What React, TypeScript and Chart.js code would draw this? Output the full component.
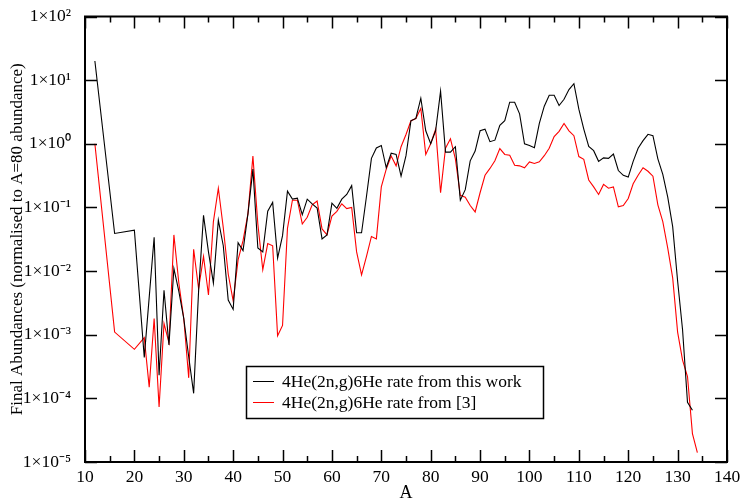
import React, { useEffect, useRef } from "react";
import { Chart, registerables } from "chart.js";

Chart.register(...registerables);

// ---- Data ----
const seriesLabels = [
  "4He(2n,g)6He rate from this work",
  "4He(2n,g)6He rate from [3]",
];

const massThisWork = [
  12, 16, 20, 22, 24, 25, 26, 27, 28, 29, 30, 31, 32, 33, 34, 35, 36, 37, 38, 39,
  40, 41, 42, 43, 44, 45, 46, 47, 48, 49, 50, 51, 52, 53, 54, 55, 56, 57, 58, 59,
  60, 61, 62, 63, 64, 65, 66, 67, 68, 69, 70, 71, 72, 73, 74, 75, 76, 77, 78, 79,
  80, 81, 82, 83, 84, 85, 86, 87, 88, 89, 90, 91, 92, 93, 94, 95, 96, 97, 98, 99,
  100, 101, 102, 103, 104, 105, 106, 107, 108, 109, 110, 111, 112, 113, 114, 115,
  116, 117, 118, 119, 120, 121, 122, 123, 124, 125, 126, 127, 128, 129, 130, 131,
  132, 133,
];
const abundThisWork = [
  20, 0.039, 0.044, 4.4e-4, 0.034, 2.3e-4, 0.005, 6.9e-4, 0.011, 0.0048, 0.0018, 4.5e-4,
  1.2e-4, 0.0048, 0.075, 0.02, 0.0065, 0.063, 0.025, 0.0035,
  0.0025, 0.028, 0.021, 0.08, 0.4, 0.023, 0.02, 0.087, 0.12, 0.016, 0.036, 0.18, 0.135,
  0.14, 0.077, 0.135, 0.114, 0.098, 0.032, 0.037,
  0.117, 0.097, 0.135, 0.16, 0.22, 0.04, 0.04, 0.15, 0.59, 0.86, 0.94, 0.42, 0.71, 0.68,
  0.31, 0.65, 2.3, 2.5, 5.2, 1.6,
  1.0, 1.6, 6.7, 0.74, 0.74, 0.9, 0.13, 0.19, 0.54, 0.77, 1.6, 1.7, 1.08, 1.14, 1.95, 2.3,
  4.5, 4.5, 2.96, 1.0,
  0.94, 0.87, 2.1, 3.9, 5.8, 5.8, 4.0, 5.0, 7.1, 8.8, 3.5, 1.7, 0.91, 0.78, 0.53, 0.6,
  0.59, 0.69, 0.38, 0.32, 0.3, 0.53, 0.85, 1.12, 1.41, 1.34, 0.58, 0.33, 0.145, 0.05,
  0.007, 0.0012,
  8.7e-5, 6.5e-5,
];

const massRef3 = [
  12, 16, 20, 22, 23, 24, 25, 26, 27, 28, 29, 30, 31, 32, 33, 34, 35, 36, 37, 38, 39,
  40, 41, 42, 43, 44, 45, 46, 47, 48, 49, 50, 51, 52, 53, 54, 55, 56, 57, 58, 59,
  60, 61, 62, 63, 64, 65, 66, 67, 68, 69, 70, 71, 72, 73, 74, 75, 76, 77, 78, 79,
  80, 81, 82, 83, 84, 85, 86, 87, 88, 89, 90, 91, 92, 93, 94, 95, 96, 97, 98, 99,
  100, 101, 102, 103, 104, 105, 106, 107, 108, 109, 110, 111, 112, 113, 114, 115,
  116, 117, 118, 119, 120, 121, 122, 123, 124, 125, 126, 127, 128, 129, 130, 131,
  132, 133, 134,
];
const abundRef3 = [
  1.0, 0.0011, 5.9e-4, 9e-4, 1.5e-4, 0.0018, 7.3e-5, 0.0015, 7.5e-4, 0.037, 0.0065,
  0.0018, 2.1e-4, 0.022, 0.0053, 0.017, 0.0042, 0.06, 0.2, 0.048, 0.009,
  0.0034, 0.015, 0.03, 0.08, 0.64, 0.055, 0.0105, 0.027, 0.025, 9.6e-4, 0.0014, 0.047,
  0.13, 0.13, 0.055, 0.07, 0.11, 0.126, 0.046, 0.037,
  0.073, 0.087, 0.114, 0.096, 0.1, 0.02, 0.0087, 0.017, 0.035, 0.032, 0.21, 0.4, 0.64,
  0.45, 0.9, 1.4, 2.3, 2.5, 3.6, 0.68,
  1.0, 1.7, 0.17, 0.85, 1.2, 0.58, 0.155, 0.145, 0.107, 0.085, 0.17, 0.32, 0.41, 0.54,
  0.84, 0.68, 0.66, 0.46, 0.45, 0.42,
  0.52, 0.49, 0.52, 0.65, 0.85, 1.3, 1.57, 2.08, 1.6, 1.34, 0.63, 0.57, 0.27, 0.21,
  0.16, 0.23, 0.2, 0.21, 0.102, 0.107, 0.138, 0.235, 0.32, 0.42, 0.37, 0.31, 0.11,
  0.06, 0.023, 0.0078, 0.0011, 4e-4,
  2.2e-4, 2.8e-5, 1.4e-5,
];

const xMajorTicks = [10, 20, 30, 40, 50, 60, 70, 80, 90, 100, 110, 120, 130, 140];
const xMinorTicks = [15, 25, 35, 45, 55, 65, 75, 85, 95, 105, 115, 125, 135];
const yTickExponents = [-5, -4, -3, -2, -1, 0, 1, 2];

const xTitle = "A";
const yTitle = "Final Abundances (normalised to A=80 abundance)";

const SUP: Record<string, string> = {
  "-": "\u207B", "0": "\u2070", "1": "\u00B9", "2": "\u00B2", "3": "\u00B3",
  "4": "\u2074", "5": "\u2075", "6": "\u2076", "7": "\u2077", "8": "\u2078", "9": "\u2079",
};
const sup = (s: string) => s.split("").map((c) => SUP[c] || c).join("");

const FONT = "'Liberation Serif', 'Times New Roman', serif";

const framePlugin = {
  id: "frameTicksLegend",
  afterDraw(chart: any) {
    const { ctx, chartArea } = chart;
    const { left, right, top, bottom } = chartArea;
    const xs = chart.scales.x;
    const ys = chart.scales.y;
    ctx.save();
    // ticks
    ctx.strokeStyle = "#000";
    ctx.lineWidth = 1.5;
    ctx.beginPath();
    xMajorTicks.forEach((v) => {
      const px = Math.round(xs.getPixelForValue(v)) + 0.5;
      ctx.moveTo(px, bottom); ctx.lineTo(px, bottom - 12);
      ctx.moveTo(px, top); ctx.lineTo(px, top + 12);
    });
    xMinorTicks.forEach((v) => {
      const px = Math.round(xs.getPixelForValue(v)) + 0.5;
      ctx.moveTo(px, bottom); ctx.lineTo(px, bottom - 6);
      ctx.moveTo(px, top); ctx.lineTo(px, top + 6);
    });
    yTickExponents.forEach((e) => {
      const py = Math.round(ys.getPixelForValue(Number("1e" + e))) + 0.5;
      ctx.moveTo(left, py); ctx.lineTo(left + 12, py);
      ctx.moveTo(right, py); ctx.lineTo(right - 12, py);
    });
    ctx.stroke();
    // frame
    ctx.lineWidth = 2;
    ctx.strokeRect(left, top, right - left, bottom - top);

    // legend
    const bx = 246, by = 366, bw = 297, bh = 52;
    ctx.fillStyle = "#fff";
    ctx.fillRect(bx, by, bw, bh);
    ctx.lineWidth = 1.5;
    ctx.strokeStyle = "#000";
    ctx.strokeRect(bx + 0.5, by + 0.5, bw, bh);
    ctx.font = `17.5px ${FONT}`;
    ctx.textBaseline = "middle";
    ctx.textAlign = "left";
    chart.data.datasets.forEach((ds: any, i: number) => {
      const yy = by + 15 + i * 21;
      ctx.strokeStyle = ds.borderColor;
      ctx.lineWidth = 1;
      ctx.beginPath();
      ctx.moveTo(253, Math.round(yy) + 0.5);
      ctx.lineTo(274, Math.round(yy) + 0.5);
      ctx.stroke();
      ctx.fillStyle = "#000";
      ctx.fillText(ds.label, 282, yy + 1);
    });
    ctx.restore();
  },
};

export default function App() {
  const canvasRef = useRef<HTMLCanvasElement | null>(null);

  useEffect(() => {
    if (!canvasRef.current) return;
    Chart.defaults.font.family = FONT;
    Chart.defaults.color = "#000";
    const chart = new Chart(canvasRef.current, {
      type: "line",
      data: {
        datasets: [
          {
            label: seriesLabels[0],
            data: massThisWork.map((a, i) => ({ x: a, y: abundThisWork[i] })),
            borderColor: "#000000",
            backgroundColor: "#000000",
            borderWidth: 1.1,
            pointRadius: 0,
            tension: 0,
            fill: false,
          },
          {
            label: seriesLabels[1],
            data: massRef3.map((a, i) => ({ x: a, y: abundRef3[i] })),
            borderColor: "#ff0000",
            backgroundColor: "#ff0000",
            borderWidth: 1.1,
            pointRadius: 0,
            tension: 0,
            fill: false,
          },
        ],
      },
      options: {
        animation: false,
        responsive: false,
        maintainAspectRatio: false,
        layout: { padding: { top: 13, right: 13, left: 0, bottom: 0 } },
        plugins: {
          legend: { display: false },
          tooltip: { enabled: false },
        },
        scales: {
          x: {
            type: "linear",
            min: 10,
            max: 140,
            grid: { display: false },
            border: { display: false },
            afterBuildTicks: (scale: any) => {
              scale.ticks = xMajorTicks.map((v) => ({ value: v }));
            },
            afterFit: (scale: any) => {
              scale.height = 40;
            },
            ticks: {
              padding: -3,
              maxRotation: 0,
              autoSkip: false,
              font: { size: 17.5, family: FONT },
              color: "#000",
              callback: (v: any) => String(v),
            },
            title: {
              display: true,
              text: xTitle,
              font: { size: 18, family: FONT },
              color: "#000",
              padding: { top: 0, bottom: -2 },
            },
          },
          y: {
            type: "logarithmic",
            min: 1e-5,
            max: 100,
            grid: { display: false },
            border: { display: false },
            afterBuildTicks: (scale: any) => {
              scale.ticks = yTickExponents.map((e) => ({ value: Number("1e" + e) }));
            },
            afterFit: (scale: any) => {
              scale.width = 85;
            },
            ticks: {
              padding: 6,
              autoSkip: false,
              font: { size: 17.5, family: FONT },
              color: "#000",
              callback: (v: any) => {
                const e = Math.round(Math.log10(Number(v)));
                return "1\u00D710" + sup(String(e));
              },
            },
            title: {
              display: true,
              text: yTitle,
              font: { size: 17, family: FONT },
              color: "#000",
              padding: { top: 7, bottom: 0 },
            },
          },
        },
      },
      plugins: [framePlugin],
    });
    return () => chart.destroy();
  }, []);

  return (
    <div
      style={{
        position: "fixed",
        left: 0,
        top: 0,
        width: 740,
        height: 502,
        background: "#fff",
      }}
    >
      <canvas ref={canvasRef} width={740} height={502} style={{ display: "block" }} />
    </div>
  );
}
